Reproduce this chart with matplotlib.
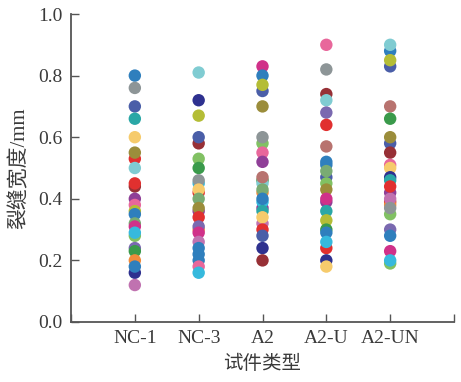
import matplotlib.pyplot as plt

# 裂缝宽度数据 (mm)
types = ['NC-1', 'NC-3', 'A2', 'A2-U', 'A2-UN']

nc1 = [0.80, 0.76, 0.70, 0.66, 0.60, 0.53, 0.55, 0.50, 0.44, 0.45, 0.40, 0.38,
       0.36, 0.35, 0.32, 0.31, 0.28, 0.29, 0.24, 0.23, 0.20, 0.16, 0.18, 0.12]
nc3 = [0.81, 0.72, 0.67, 0.58, 0.60, 0.53, 0.50, 0.45, 0.46, 0.42, 0.43, 0.40,
       0.36, 0.37, 0.30, 0.34, 0.31, 0.29, 0.26, 0.24, 0.22, 0.20, 0.18, 0.16]
a2 = [0.83, 0.80, 0.75, 0.77, 0.70, 0.58, 0.60, 0.55, 0.52, 0.46, 0.45, 0.47,
      0.42, 0.43, 0.37, 0.39, 0.36, 0.40, 0.32, 0.34, 0.30, 0.28, 0.24, 0.20]
a2u = [0.90, 0.82, 0.74, 0.72, 0.68, 0.64, 0.57, 0.52, 0.51, 0.47, 0.45, 0.49,
       0.39, 0.43, 0.40, 0.36, 0.33, 0.30, 0.29, 0.24, 0.26, 0.20, 0.18]
a2un = [0.88, 0.83, 0.85, 0.90, 0.70, 0.66, 0.58, 0.60, 0.55, 0.51, 0.50, 0.47,
        0.46, 0.42, 0.39, 0.38, 0.40, 0.44, 0.35, 0.37, 0.30, 0.28, 0.23, 0.19,
        0.20]

# 每个点的颜色
blue, slate, navy = '#2f7fbd', '#4a5ea8', '#2e318f'
grey, teal, yellow = '#8d9597', '#2aa7a6', '#f6cb6c'
olive, red, dred = '#9b8d3b', '#e1302f', '#973036'
lcyan, purple, pink = '#80ccd2', '#8f3f97', '#e8679b'
ygreen, sage, magenta = '#b4bd36', '#79ab73', '#d03189'
cyan, lgreen, lav = '#36b9dd', '#81c163', '#7a69b0'
green, orange, orchid, rosy = '#3a9a4b', '#f08b3b', '#c072b0', '#b8736f'

nc1_c = [blue, grey, slate, teal, yellow, red, olive, lcyan, dred, red, purple,
         pink, ygreen, blue, sage, magenta, lgreen, cyan, lav, green, orange,
         navy, blue, orchid]
nc3_c = [lcyan, navy, ygreen, dred, slate, lgreen, green, cyan, grey, red,
         yellow, sage, purple, olive, orange, red, lav, magenta, orchid, blue,
         blue, blue, pink, cyan]
a2_c = [magenta, blue, slate, ygreen, olive, lgreen, grey, pink, purple, green,
        lcyan, rosy, orange, sage, purple, cyan, teal, blue, orchid, yellow,
        red, slate, navy, dred]
a2u_c = [pink, grey, dred, lcyan, lav, red, rosy, blue, blue, slate, lgreen,
         sage, purple, olive, magenta, teal, ygreen, green, blue, red, cyan,
         navy, yellow]
a2un_c = [blue, slate, ygreen, lcyan, rosy, green, slate, olive, dred, pink,
          yellow, navy, teal, purple, red, orange, orchid, red, lgreen, grey,
          lav, blue, magenta, lgreen, cyan]

groups = [nc1, nc3, a2, a2u, a2un]
group_colors = [nc1_c, nc3_c, a2_c, a2u_c, a2un_c]

fig = plt.figure(figsize=(4.61, 3.82), dpi=100)
ax = fig.add_axes([71 / 461, 60 / 382, 383 / 461, 308 / 382])

for i, (vals, cols) in enumerate(zip(groups, group_colors)):
    ax.scatter([i + 1] * len(vals), vals, c=cols, s=80, linewidths=0, zorder=3)

ax.set_xlim(0, 6)
ax.set_ylim(0, 1.0)
ax.set_xticks(range(7))
ax.set_xticklabels([''] + types + [''])
ax.set_yticks([0, 0.2, 0.4, 0.6, 0.8, 1.0])
ax.set_yticklabels(['0.0', '0.2', '0.4', '0.6', '0.8', '1.0'])

for side in ['top', 'right']:
    ax.spines[side].set_visible(False)
for side in ['left', 'bottom']:
    ax.spines[side].set_color('#555555')
    ax.spines[side].set_linewidth(1.3)

ax.tick_params(direction='in', length=6, width=1, color='#555555',
               labelsize=14, labelcolor='#3a3a3a', pad=6)
for lab in ax.get_xticklabels() + ax.get_yticklabels():
    lab.set_family('Liberation Serif')

fam = ['Liberation Serif', 'Noto Sans CJK SC']
ax.set_xlabel('试件类型', family=fam, fontsize=14, color='#3a3a3a', labelpad=5)
ax.set_ylabel('裂缝宽度/mm', family=fam, fontsize=15, color='#3a3a3a', labelpad=6)

fig.savefig('out.png', dpi=100)
